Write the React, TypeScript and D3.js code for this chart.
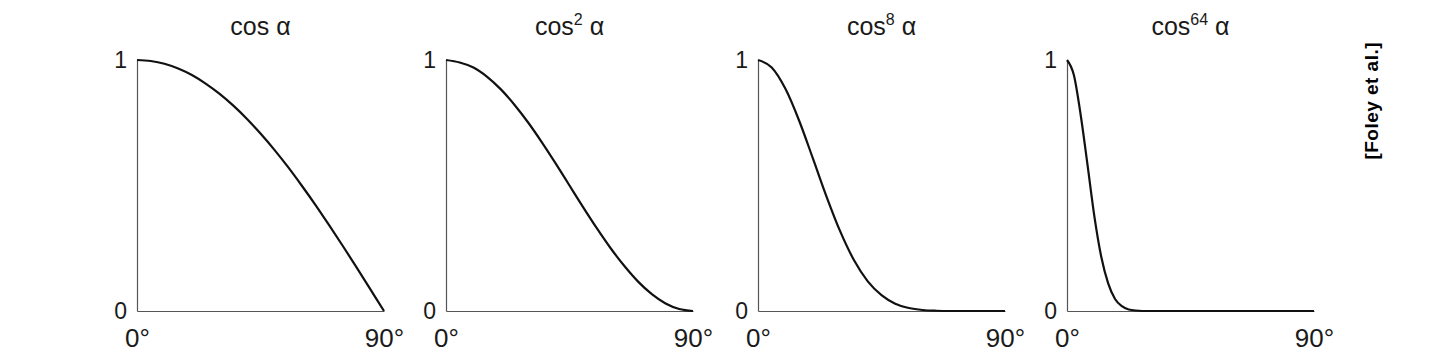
import React, { useEffect, useRef } from "react";
import * as d3 from "d3";

// angles in degrees
const angles = [0, 5, 10, 15, 20, 25, 30, 35, 40, 45, 50, 55, 60, 65, 70, 75, 80, 85, 90];
const cos1 = [1, 0.996, 0.985, 0.966, 0.94, 0.906, 0.866, 0.819, 0.766, 0.707, 0.643, 0.574, 0.5, 0.423, 0.342, 0.259, 0.174, 0.087, 0];
const cos2 = [1, 0.99, 0.97, 0.933, 0.883, 0.821, 0.75, 0.671, 0.587, 0.5, 0.413, 0.329, 0.25, 0.179, 0.117, 0.067, 0.03, 0.008, 0];
const cos8 = [1, 0.97, 0.885, 0.758, 0.608, 0.455, 0.316, 0.202, 0.118, 0.063, 0.029, 0.012, 0.004, 0.001, 0, 0, 0, 0, 0];
const angles64 = [0, 2.5, 5, 7.5, 10, 12.5, 15, 17.5, 20, 22.5, 25, 30, 40, 50, 60, 70, 80, 90];
const cos64 = [1, 0.94, 0.78, 0.58, 0.375, 0.215, 0.11, 0.048, 0.019, 0.006, 0.002, 0, 0, 0, 0, 0, 0, 0];

const exponents = ["", "2", "8", "64"];
const xTickLabels = ["0°", "90°"];
const yTickLabels = ["0", "1"];
const credit = "[Foley et al.]";

const series = [
  { x: angles, y: cos1 },
  { x: angles, y: cos2 },
  { x: angles, y: cos8 },
  { x: angles64, y: cos64 },
];

// layout
const panelLeft = [137, 446, 758, 1067];
const panelW = 247;
const top = 60;
const bottom = 311;
const font = "'Liberation Sans', Arial, Helvetica, sans-serif";

export default function App() {
  const ref = useRef<SVGSVGElement>(null);

  useEffect(() => {
    const svg = d3.select(ref.current);
    svg.selectAll("*").remove();

    const xScale = d3.scaleLinear().domain([0, 90]).range([0, panelW]);
    const yScale = d3.scaleLinear().domain([0, 1]).range([bottom - top, 0]);

    const line = d3
      .line<[number, number]>()
      .x((d) => xScale(d[0]))
      .y((d) => yScale(d[1]))
      .curve(d3.curveMonotoneX);

    series.forEach((s, i) => {
      const g = svg.append("g").attr("transform", `translate(${panelLeft[i]},${top})`);

      // x axis
      const xAxis = d3
        .axisBottom(xScale)
        .tickValues([0, 90])
        .tickSize(0)
        .tickSizeOuter(0)
        .tickPadding(18)
        .tickFormat((d, k) => xTickLabels[k]);
      const gx = g.append("g").attr("transform", `translate(0,${bottom - top})`).call(xAxis);

      // y axis
      const yAxis = d3
        .axisLeft(yScale)
        .tickValues([0, 1])
        .tickSize(0)
        .tickSizeOuter(0)
        .tickPadding(10)
        .tickFormat((d, k) => yTickLabels[k]);
      const gy = g.append("g").call(yAxis);

      gx.selectAll("text").style("font-size", "26px");
      gy.selectAll("text").style("font-size", "23px");
      [gx, gy].forEach((a) => {
        a.selectAll("text").style("font-family", font).style("fill", "#1a1a1a");
        a.select(".domain").attr("stroke", "#555").attr("stroke-width", 1.2);
      });

      // curve
      const pts: [number, number][] = s.x.map((a, k) => [a, s.y[k]]);
      g.append("path")
        .datum(pts)
        .attr("d", line)
        .attr("fill", "none")
        .attr("stroke", "#111")
        .attr("stroke-width", 2.2);

      // title
      const t = g
        .append("text")
        .attr("x", panelW / 2)
        .attr("y", 35 - top)
        .attr("text-anchor", "middle")
        .style("font-family", font)
        .style("font-size", "25px")
        .style("fill", "#1a1a1a");
      t.append("tspan").text("cos");
      if (exponents[i]) {
        t.append("tspan").attr("dy", -10).style("font-size", "16px").text(exponents[i]);
        t.append("tspan").attr("dy", 10).text(" α");
      } else {
        t.append("tspan").text(" α");
      }
    });

    svg
      .append("text")
      .attr("transform", `translate(1378,101) rotate(-90)`)
      .attr("text-anchor", "middle")
      .attr("textLength", 117)
      .attr("lengthAdjust", "spacing")
      .style("font-family", font)
      .style("font-weight", "bold")
      .style("font-size", "19px")
      .style("fill", "#000")
      .text(credit);
  }, []);

  return (
    <svg
      ref={ref}
      width={1439}
      height={364}
      style={{ position: "absolute", left: 0, top: 0, background: "#fff" }}
    />
  );
}
